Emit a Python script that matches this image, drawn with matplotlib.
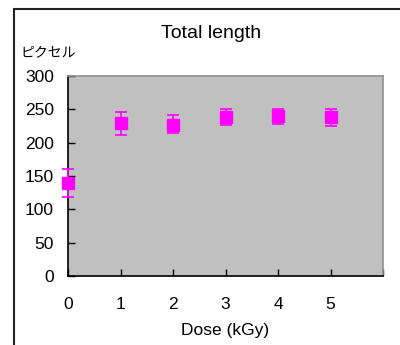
import matplotlib.pyplot as plt
from matplotlib.patches import Rectangle

dose = [0, 1, 2, 3, 4, 5]
length = [140, 229, 227, 238, 240, 238]
err_low = [21, 17, 13, 12, 12, 13]
err_high = [20, 17, 15, 12, 10, 12]
x_ticks = [0, 1, 2, 3, 4, 5, 6]
x_labels = ['0', '1', '2', '3', '4', '5', '']
y_ticks = [0, 50, 100, 150, 200, 250, 300]

plt.rcParams['font.family'] = ['Liberation Sans', 'Noto Sans CJK JP']

fig = plt.figure(figsize=(4, 3.45), dpi=100)
ax = fig.add_axes([68 / 400, 1 - 276 / 345, 315 / 400, 200 / 345])
ax.set_facecolor('#c0c0c0')

ax.errorbar(dose, length, yerr=[err_low, err_high], fmt='s', color='#ff00ff',
            ecolor='#ff00ff', markersize=9, capsize=4.5, elinewidth=1.2,
            capthick=1.2, clip_on=False, zorder=3)

ax.set_xlim(0, 6)
ax.set_ylim(0, 300)
ax.set_xticks(x_ticks)
ax.set_xticklabels(x_labels)
ax.set_yticks(y_ticks)
ax.tick_params(direction='in', length=5, width=1, labelsize=12.5)
ax.tick_params(axis='x', pad=15)
ax.tick_params(axis='y', pad=10)

for side in ['left', 'bottom']:
    ax.spines[side].set_color('black')
    ax.spines[side].set_linewidth(1.2)
for side in ['top', 'right']:
    ax.spines[side].set_color('#909090')
    ax.spines[side].set_linewidth(1.2)

ax.set_xlabel('Dose (kGy)', fontsize=12.5, labelpad=8)
fig.text(211 / 400, 1 - 33 / 345, 'Total length', fontsize=14, ha='center', va='center')
fig.text(20 / 400, 1 - 52 / 345, 'ピクセル', fontsize=10, ha='left', va='center',
         family=['Noto Sans CJK JP'])

# outer chart frame (clipped at right/bottom)
fig.patches.append(Rectangle((14.5 / 400, -0.1), 1.0, 1 - 9.5 / 345 + 0.1,
                             transform=fig.transFigure, fill=False,
                             edgecolor='#222222', linewidth=1.5))

fig.savefig('out.png', dpi=100)
